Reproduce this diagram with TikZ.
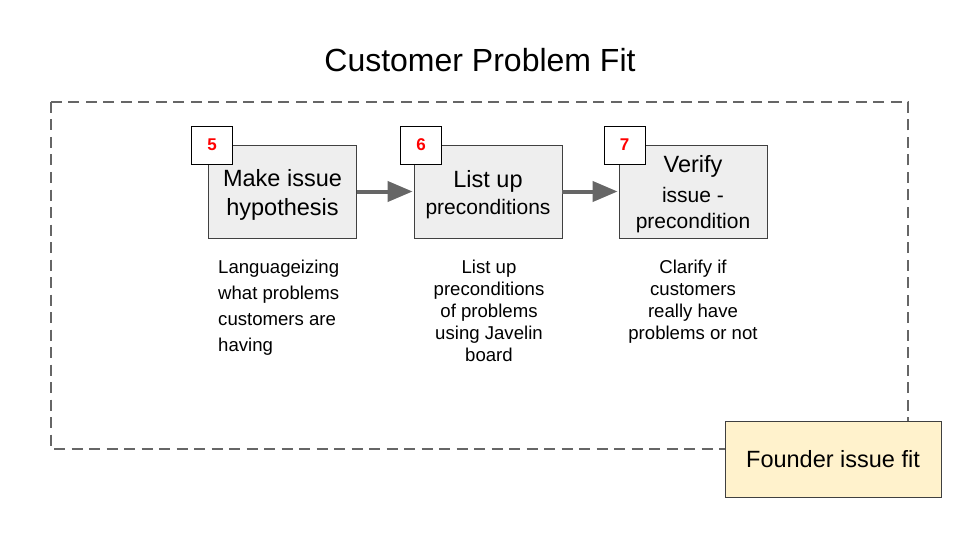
\documentclass[tikz,border=0pt]{standalone}
\usepackage{fontspec}
\setmainfont{Liberation Sans}
\usepackage{xcolor}
\usetikzlibrary{arrows.meta, positioning}

\definecolor{stepgray}{HTML}{EEEEEE}
\definecolor{founderyellow}{HTML}{FFF2CC}
\definecolor{linegray}{HTML}{666666}

\begin{document}
\begin{tikzpicture}[
        x=1pt, y=-1pt,
        stepbox/.style={rectangle, draw=black!75, fill=stepgray, line width=0.8pt, minimum width=148pt, minimum height=93pt},
        steptext/.style={align=center, yshift=-3pt, inner sep=0pt, font=\fontsize{23.5}{29}\selectfont},
        numtag/.style={rectangle, draw=black, fill=white, line width=0.8pt, minimum width=41pt, minimum height=38pt, inner sep=0pt, text=red, font=\fontsize{17}{20}\selectfont\bfseries},
        desc/.style={align=center, font=\fontsize{18.6}{22}\selectfont, anchor=north, inner sep=0pt},
        arrow/.style={-{Triangle[length=25pt, width=20pt]}, line width=4pt, draw=linegray, shorten >=1pt}
        ]
        \useasboundingbox (0,0) rectangle (960,540);

        \node[font=\fontsize{32}{36}\selectfont] (title) at (480,60) {Customer Problem Fit};
        \draw[linegray, line width=2.6pt, dash pattern=on 11pt off 6.5pt] (51,102) rectangle (908,449);

        % steps
        \node[stepbox, label={[steptext]center:Make issue\\hypothesis}] (hypo) at (282.5,191.5) {};
        \node[stepbox, label={[steptext]center:List up\\[-2pt]{\fontsize{21}{24}\selectfont preconditions}}] (pre) at (488,191.5) {};
        \node[stepbox, label={[steptext]center:Verify\\[1pt]{\fontsize{21}{28}\selectfont issue -}\\[-3pt]{\fontsize{21}{26}\selectfont precondition}}] (verify) at (693,191.5) {};

        \node[numtag] (n5) at (212,145) {5};
        \node[numtag] (n6) at (421,145) {6};
        \node[numtag] (n7) at (624.5,145) {7};

        \draw[arrow] (hypo) -- (pre);
        \draw[arrow] (pre) -- (verify);

        % descriptions
        \node[desc, align=left, anchor=north west, font=\fontsize{18.6}{26}\selectfont] (d5) at (218,260) {Languageizing\\what problems\\customers are\\having};
        \node[desc] (d6) at (489,260) {List up\\preconditions\\of problems\\using Javelin\\board};
        \node[desc] (d7) at (693,260) {Clarify if\\customers\\really have\\problems or not};

        \node[rectangle, draw=black!75, fill=founderyellow, line width=0.8pt, minimum width=216pt, minimum height=76pt, font=\fontsize{23.5}{28}\selectfont] (founder) at (833,459) {Founder issue fit};
    \end{tikzpicture}
\end{document}
